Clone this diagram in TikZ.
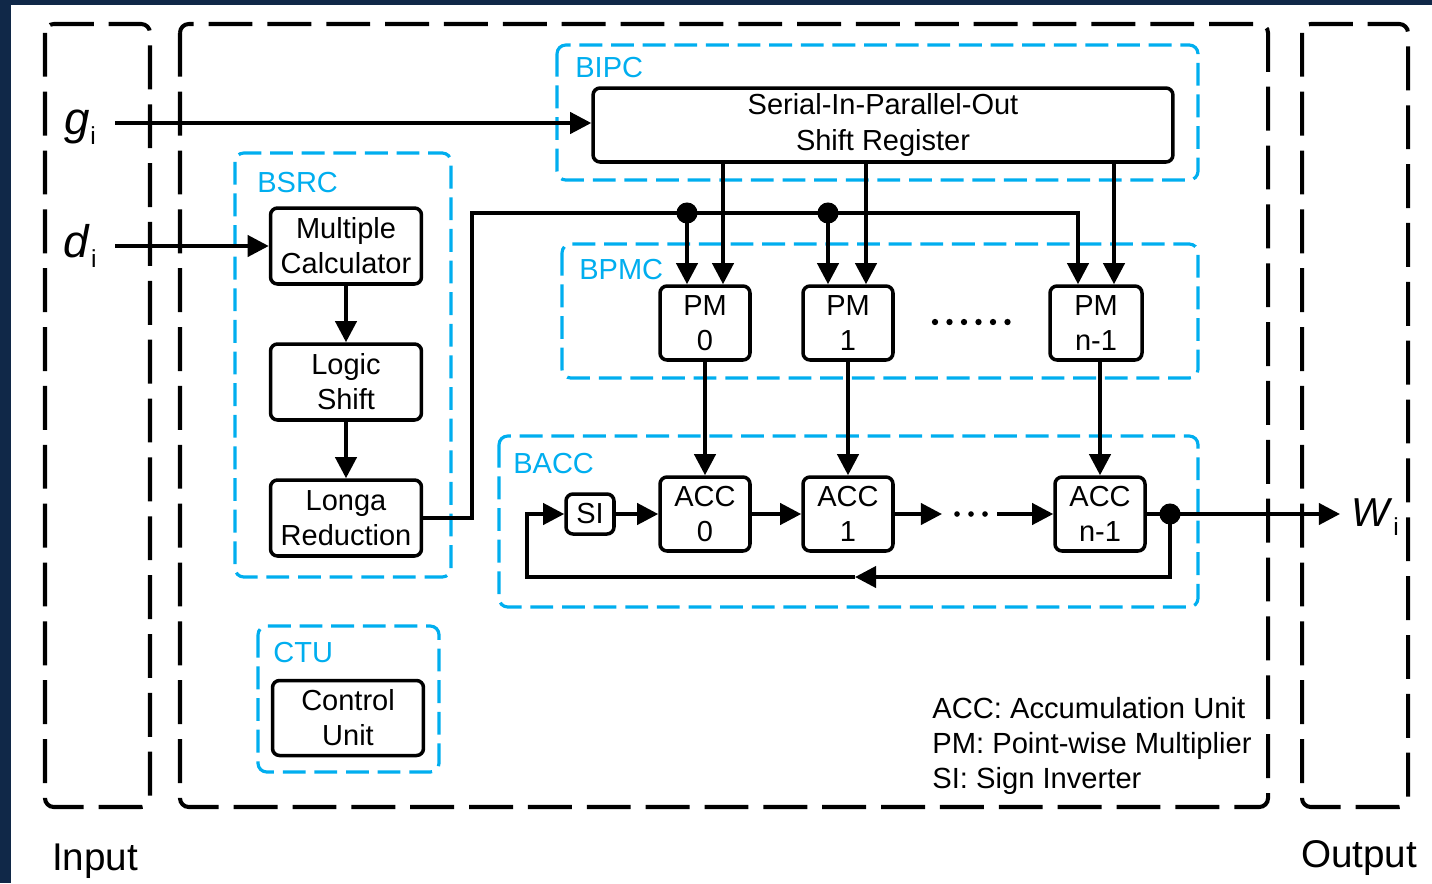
\documentclass[tikz,border=0pt]{standalone}
\usepackage{fontspec}
\setmainfont{Liberation Sans}
\usetikzlibrary{arrows.meta,calc}
\definecolor{cy}{RGB}{0,174,239}
\definecolor{navy}{RGB}{16,40,72}
\begin{document}
\begin{tikzpicture}[x=0.02cm,y=-0.02cm,
  blk/.style={draw,line width=2pt,rounded corners=4pt,align=center,inner sep=0pt,fill=white,
    font=\fontsize{16.5}{20}\selectfont},
  ln/.style={line width=2.2pt},
  arr/.style={ln,-{Triangle[length=12pt,width=12pt]}},
  frame/.style={line width=2.3pt,dash pattern=on 25pt off 8.5pt,rounded corners=5pt},
  grp/.style={draw=cy,line width=1.8pt,dash pattern=on 13pt off 5pt,rounded corners=5pt},
  glabel/.style={text=cy,anchor=west,font=\fontsize{16.5}{20}\selectfont,inner sep=0pt},
  big/.style={font=\fontsize{22}{24}\selectfont,inner sep=0pt},
]
\useasboundingbox (0,0) rectangle (1432,883);
% background
\fill[navy] (0,0) rectangle (1432,883);
\fill[white] (11,5) rectangle (1432,883);
% frames
\draw[frame] (45,24) rectangle (150,807);
\draw[frame] (180,24) rectangle (1268,807);
\draw[frame] (1302,24) rectangle (1408,807);
% groups
\draw[grp] (557,45) rectangle (1198,180);
\draw[grp] (235,153) rectangle (451,577);
\draw[grp] (562,244) rectangle (1198,378);
\draw[grp] (499,436) rectangle (1198,607);
\draw[grp] (258,626) rectangle (439,772);
\node[glabel] (lbipc) at (575,68) {BIPC};
\node[glabel] (lbsrc) at (257,183) {BSRC};
\node[glabel] (lbpmc) at (579,270) {BPMC};
\node[glabel] (lbacc) at (513,464) {BACC};
\node[glabel] (lctu) at (273,653) {CTU};
% blocks
\node[blk,minimum width=11.6cm,minimum height=1.48cm] (sipo) at (883,125) {Serial-In-Parallel-Out\\Shift Register};
\node[blk,minimum width=3.02cm,minimum height=1.52cm] (mc) at (346,246) {Multiple\\Calculator};
\node[blk,minimum width=3.02cm,minimum height=1.52cm] (ls) at (346,382) {Logic\\Shift};
\node[blk,minimum width=3.02cm,minimum height=1.52cm] (lr) at (346,518) {Longa\\Reduction};
\node[blk,minimum width=3.02cm,minimum height=1.5cm] (cu) at (348,718) {Control\\Unit};
\node[blk,minimum width=1.8cm,minimum height=1.48cm] (pm0) at (705,323) {PM\\0};
\node[blk,minimum width=1.8cm,minimum height=1.48cm] (pm1) at (848,323) {PM\\1};
\node[blk,minimum width=1.84cm,minimum height=1.48cm] (pmn) at (1096,323) {PM\\n-1};
\node[blk,minimum width=1.8cm,minimum height=1.48cm] (acc0) at (705,514) {ACC\\0};
\node[blk,minimum width=1.8cm,minimum height=1.48cm] (acc1) at (848,514) {ACC\\1};
\node[blk,minimum width=1.8cm,minimum height=1.48cm] (accn) at (1100,514) {ACC\\n-1};
\node[blk,minimum width=0.96cm,minimum height=0.8cm] (si) at (590,514) {SI};
% input / output labels
\node[inner sep=0pt] (gi) at (80,127) {\fontsize{26}{26}\selectfont\textit{g}\kern0.5pt\raisebox{-0.4ex}{\fontsize{14}{14}\selectfont i}};
\node[inner sep=0pt] (di) at (80,246) {\fontsize{26}{26}\selectfont\textit{d}\kern0.5pt\raisebox{-0.4ex}{\fontsize{14}{14}\selectfont i}};
\node[inner sep=0pt] (wi) at (1375,517) {\fontsize{23}{23}\selectfont\textit{W}\kern0.5pt\raisebox{-0.4ex}{\fontsize{14}{14}\selectfont i}};
\node[big] (inp) at (95,861) {Input};
\node[big] (outp) at (1359,858) {Output};
% legend
\node[anchor=west,align=left,inner sep=0pt,font=\fontsize{16.6}{19.8}\selectfont] (legend) at (932,746)
  {ACC: Accumulation Unit\\PM: Point-wise Multiplier\\SI: Sign Inverter};
% inputs
\coordinate (gis) at (115,123);
\coordinate (dis) at (115,246);
\draw[arr] (gis) -- (gis -| sipo.west);
\draw[arr] (dis) -- (mc.west);
% BSRC chain
\draw[arr] (mc.south) -- (ls.north);
\draw[arr] (ls.south) -- (lr.north);
% SIPO -> PM
\coordinate (p0r) at ($(pm0.north)+(18,0)$);
\coordinate (p1r) at ($(pm1.north)+(18,0)$);
\coordinate (pnr) at ($(pmn.north)+(18,0)$);
\coordinate (p0l) at ($(pm0.north)+(-18,0)$);
\coordinate (p1l) at ($(pm1.north)+(-20,0)$);
\coordinate (pnl) at ($(pmn.north)+(-18,0)$);
\draw[arr] (sipo.south -| p0r) -- (p0r);
\draw[arr] (sipo.south -| p1r) -- (p1r);
\draw[arr] (sipo.south -| pnr) -- (pnr);
% bus from Longa reduction
\coordinate (bus) at (472,213);
\draw[arr] (lr.east) -| (bus) -| (pnl);
\coordinate (b0) at (p0l |- bus);
\coordinate (b1) at (p1l |- bus);
\draw[arr] (b0) -- (p0l);
\draw[arr] (b1) -- (p1l);
\fill (b0) circle (6pt);
\fill (b1) circle (6pt);
% PM dots
\foreach \i in {0,...,5} \fill (935+14.5*\i,322) circle (1.8pt);
% PM -> ACC
\draw[arr] (pm0.south -| acc0.north) -- (acc0.north);
\draw[arr] (pm1.south -| acc1.north) -- (acc1.north);
\draw[arr] (pmn.south -| accn.north) -- (accn.north);
% ACC chain
\coordinate (ad1) at (942,514);
\coordinate (ad2) at (997,514);
\draw[arr] (si.east) -- (acc0.west);
\draw[arr] (acc0.east) -- (acc1.west);
\draw[arr] (acc1.east) -- (ad1);
\draw[arr] (ad2) -- (accn.west);
\foreach \i in {0,1,2} \fill (957+14*\i,514) circle (1.6pt);
% output and feedback
\coordinate (od) at (1170,514);
\coordinate (wend) at (1340,514);
\coordinate (fbm) at (855,577);
\coordinate (fbl) at (527,577);
\draw[ln] (accn.east) -- (od);
\draw[arr] (od) -- (wend);
\draw[arr] (od) |- (fbm);
\draw[arr] (fbm) -- (fbl) |- (si.west);
\fill (od) circle (6pt);
\end{tikzpicture}
\end{document}
